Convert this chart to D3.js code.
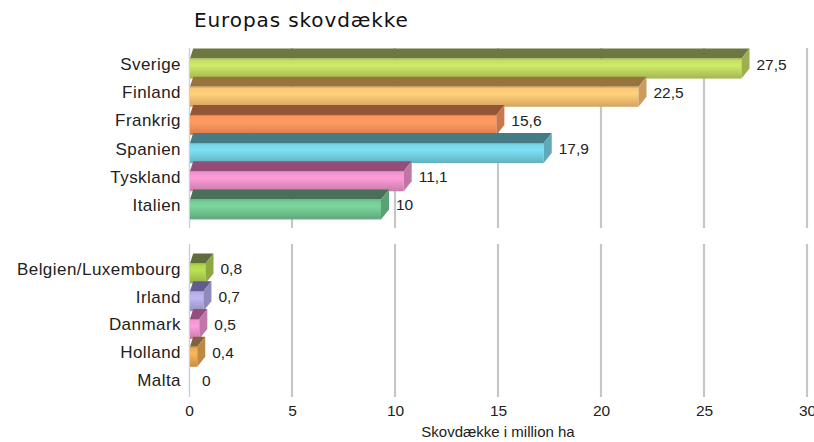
<!DOCTYPE html>
<html><head><meta charset="utf-8">
<script src="https://cdn.jsdelivr.net/npm/d3@7"></script>
<style>body{margin:0;background:#fff}svg{display:block}</style>
</head><body>
<script>
const title = "Europas skovdække";
const axisTitle = "Skovdække i million ha";
const topCats = ["Sverige","Finland","Frankrig","Spanien","Tyskland","Italien"];
const topVals = [27.5,22.5,15.6,17.9,11.1,10];
const topLabels = ["27,5","22,5","15,6","17,9","11,1","10"];
const topColors = ["#b7cf5c","#ecb96c","#ee8a56","#6fc7d8","#e08bbf","#6cbd8b"];
const botCats = ["Belgien/Luxembourg","Irland","Danmark","Holland","Malta"];
const botVals = [0.8,0.7,0.5,0.4,0];
const botLabels = ["0,8","0,7","0,5","0,4","0"];
const botColors = ["#a6c64a","#a8a2d8","#e08cc4","#dea050","#cccccc"];
const xTicks = [0,5,10,15,20,25,30];

const W=814,H=442;
const svg=d3.select("body").append("svg").attr("width",W).attr("height",H);
const defs=svg.append("defs");
const x=d3.scaleLinear().domain([0,30]).range([189,807]);
const yTop=d3.scaleBand().domain(topCats).range([50,219]);
const yBot=d3.scaleBand().domain(botCats).range([255,394]);
const font="'Liberation Sans', Arial, sans-serif";

svg.append("text").attr("x",194).attr("y",27).attr("font-family","'DejaVu Sans', Verdana, sans-serif")
  .attr("font-size",20).attr("letter-spacing",0.9).attr("fill","#111").text(title);

function grid(y0,y1){
  svg.append("g").selectAll("line").data(xTicks.filter(d=>d>0)).join("line")
    .attr("x1",d=>x(d)).attr("x2",d=>x(d)).attr("y1",y0).attr("y2",y1)
    .attr("stroke","#c6c6c6").attr("stroke-width",2.2);
  svg.append("line").attr("x1",x(0)+0.5).attr("x2",x(0)+0.5).attr("y1",y0).attr("y2",y1)
    .attr("stroke","#cdd0dc").attr("stroke-width",1.5);
}
grid(48,228); grid(244,397);

const dx=8, dy=10, fh=20;
function bars(cats,vals,labels,colors,yS,endOff,cls){
  const g=svg.append("g");
  cats.forEach((c,i)=>{
    const v=vals[i], col=d3.color(colors[i]);
    const cy=yS(c)+yS.bandwidth()/2;
    const t=cy-15.5;
    const x0=x(0)+1;
    let sideEnd;
    svg.append("text").attr("x",181).attr("y",cy).attr("dy","0.35em").attr("text-anchor","end")
      .attr("font-family",font).attr("font-size",17).attr("letter-spacing",0.45).attr("fill","#222").text(c);
    if(v>0){
      const xe=x(v)+endOff;
      const gid=cls+i;
      const gr=defs.append("linearGradient").attr("id",gid).attr("x1",0).attr("y1",0).attr("x2",0).attr("y2",1);
      gr.append("stop").attr("offset","0%").attr("stop-color",col.brighter(0.15));
      gr.append("stop").attr("offset","35%").attr("stop-color",col.brighter(0.35));
      gr.append("stop").attr("offset","70%").attr("stop-color",col);
      gr.append("stop").attr("offset","100%").attr("stop-color",col.darker(0.35));
      const tc=d3.hsl(col); tc.l*=0.62; tc.s*=0.55;
      g.append("path").attr("d",`M${x0},${t+dy}L${x0+dx*0.4},${t}L${xe+dx},${t}L${xe},${t+dy}Z`).attr("fill",tc.toString());
      g.append("rect").attr("x",x0).attr("y",t+dy).attr("width",xe-x0).attr("height",fh).attr("fill",`url(#${gid})`);
      g.append("line").attr("x1",x0).attr("x2",xe).attr("y1",t+dy+0.5).attr("y2",t+dy+0.5).attr("stroke",col.darker(0.6)).attr("stroke-opacity",0.5);
      g.append("path").attr("d",`M${xe},${t+dy}L${xe+dx},${t}L${xe+dx},${t+fh}L${xe},${t+dy+fh}Z`).attr("fill",col.darker(0.45));
      sideEnd=xe+dx;
    } else sideEnd=x0+5;
    svg.append("text").attr("x",sideEnd+7).attr("y",cy).attr("dy","0.35em")
      .attr("font-family",font).attr("font-size",15.5).attr("fill","#222").text(labels[i]);
  });
}
bars(topCats,topVals,topLabels,topColors,yTop,-14,"t");
bars(botCats,botVals,botLabels,botColors,yBot,0,"b");

const ax=svg.append("g").attr("transform","translate(0,402)")
  .call(d3.axisBottom(x).tickValues(xTicks).tickSize(0).tickPadding(3).tickFormat(d=>d));
ax.select(".domain").remove();
ax.selectAll("text").attr("font-family",font).attr("font-size",15.5).attr("fill","#222");

svg.append("text").attr("x",498).attr("y",437).attr("text-anchor","middle")
  .attr("font-family",font).attr("font-size",15).attr("fill","#222").text(axisTitle);
</script>
</body></html>
